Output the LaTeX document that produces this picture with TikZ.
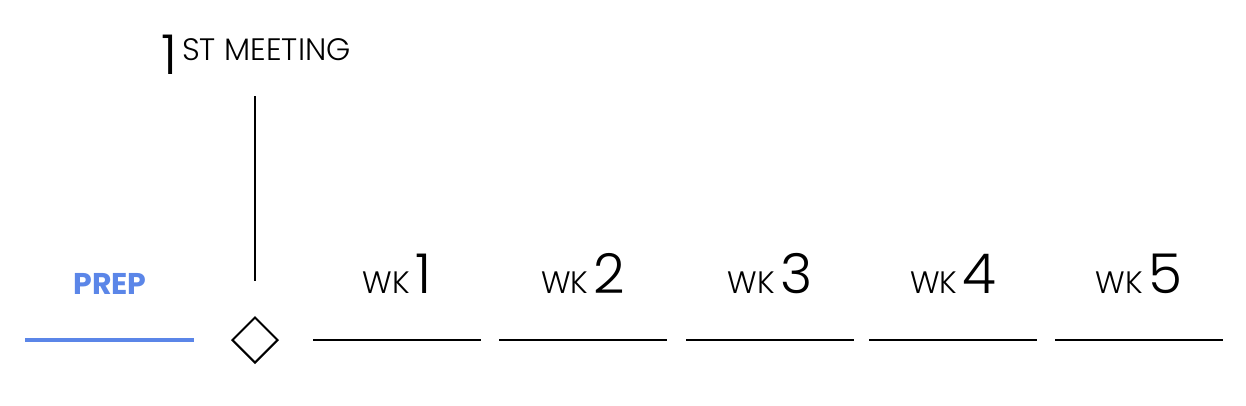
\documentclass[tikz,border=0pt]{standalone}
\usepackage{fontspec}
\setmainfont{Poppins}[UprightFont={* Light}, BoldFont={* Bold}]
\definecolor{prepblue}{RGB}{91,134,232}
\newcommand{\smallcaps}[1]{{\fontsize{31}{31}\selectfont #1}}
\newcommand{\bignum}[1]{{\fontsize{55}{55}\selectfont #1}}
\tikzset{
  wkline/.style={draw=black, line width=2pt},
  preplinestyle/.style={draw=prepblue, line width=4pt},
  wklabel/.style={anchor=base, inner sep=0pt, text=black},
  meetline/.style={draw=black, line width=2pt},
  diamondmark/.style={draw=black, line width=2pt, shape=diamond, minimum width=46pt, minimum height=46pt, inner sep=0pt},
}
\usetikzlibrary{shapes.geometric}
\begin{document}
\begin{tikzpicture}[x=1pt,y=-1pt]
\useasboundingbox (0,0) rectangle (1246,405);
% prep
\coordinate (p0) at (25,340);
\coordinate (p1) at (194,340);
\draw[preplinestyle] (p0) -- (p1);
\node[anchor=base, inner sep=0pt, text=prepblue] (prep) at (110,294) {\fontsize{30}{30}\selectfont\bfseries PREP};
% milestone
\node[diamondmark] (dia) at (255,340) {};
\coordinate (mtop) at (255,96);
\coordinate (mbot) at (255,281);
\draw[meetline] (mtop) -- (mbot);
\node[anchor=base west, inner sep=0pt] (meet) at (161,74) {\bignum{1}\hspace{5pt}\raisebox{14pt}{\smallcaps{ST MEETING}}};
% weeks
\foreach \i/\a/\b in {1/313/481, 2/499/667, 3/686/854, 4/869/1037, 5/1055/1223}{
  \coordinate (s\i) at (\a,340);
  \coordinate (e\i) at (\b,340);
  \draw[wkline] (s\i) -- (e\i);
  \node[wklabel] (wk\i) at ({(\a+\b)/2},293) {\smallcaps{WK}\hspace{5pt}\bignum{\i}};
}
\end{tikzpicture}
\end{document}
